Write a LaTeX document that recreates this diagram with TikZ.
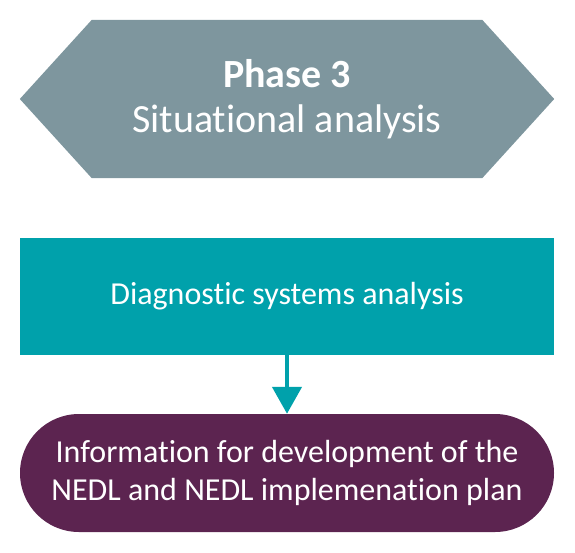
\documentclass[tikz,border=0pt]{standalone}
\usepackage{fontspec}
\setmainfont[Ligatures={NoCommon}]{Carlito}
\usetikzlibrary{arrows.meta,backgrounds}
\definecolor{phasegray}{RGB}{126,150,158}
\definecolor{diagteal}{RGB}{0,161,171}
\definecolor{infoplum}{RGB}{92,36,80}
\begin{document}
\begin{tikzpicture}[x=1pt, y=1pt,
  box/.style={fill=#1, text=white, minimum width=534pt, align=center, inner sep=0pt},
  link/.style={draw=diagteal, line width=4.5pt, -{Triangle[length=27pt,width=29pt]}}
]
\useasboundingbox (0,0) rectangle (575,-552);
\node[text=white, minimum width=534pt, minimum height=158pt, align=center, inner sep=0pt,
  font=\fontsize{40}{45}\selectfont] (phase) at (287,-99)
  {\textbf{Phase 3}\\Situational analysis};
\begin{scope}[on background layer]
\fill[phasegray] (phase.west) -- ([xshift=72pt]phase.north west)
  -- ([xshift=-72pt]phase.north east) -- (phase.east)
  -- ([xshift=-72pt]phase.south east) -- ([xshift=72pt]phase.south west) -- cycle;
\end{scope}
\node[box=diagteal, rectangle, minimum height=117pt,
  font=\fontsize{32}{38}\selectfont] (diag) at (287,-296)
  {Diagnostic systems analysis};
\node[box=infoplum, rectangle, rounded corners=59pt, minimum height=118pt,
  font=\fontsize{32}{38}\selectfont] (info) at (287,-473)
  {Information for development of the\\NEDL and NEDL implemenation plan};
\draw[link] (diag.south) -- (info.north);
\end{tikzpicture}
\end{document}
